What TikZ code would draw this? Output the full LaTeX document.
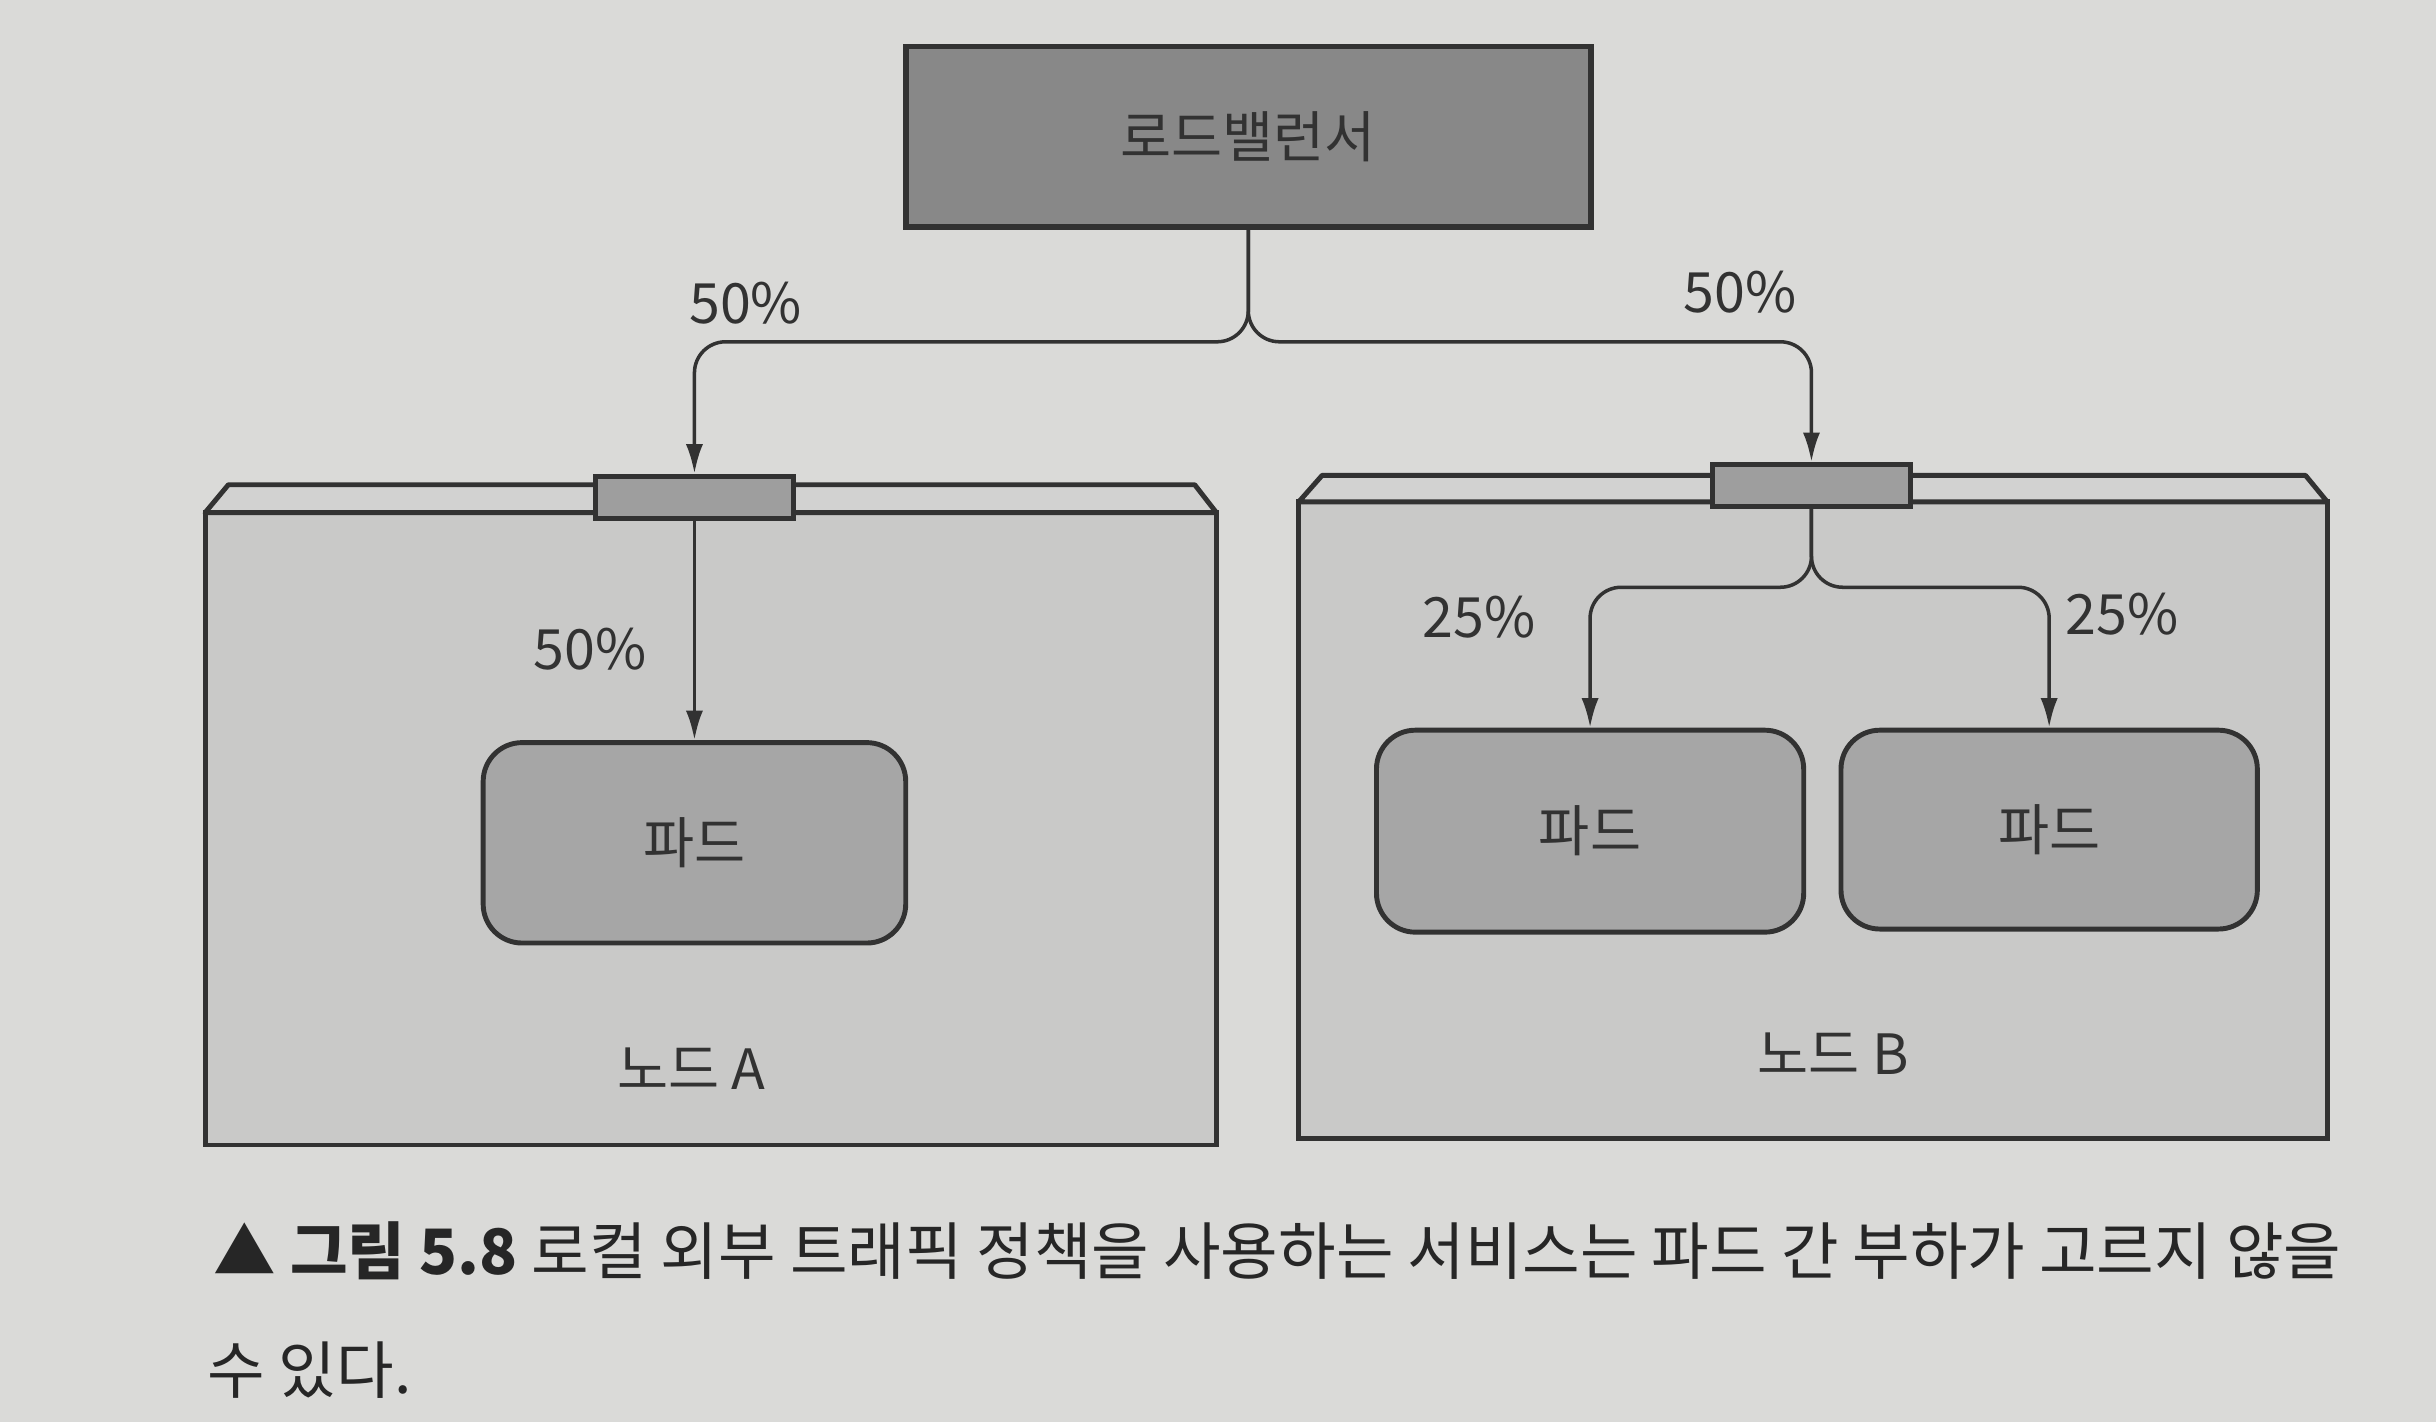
\documentclass[tikz,border=0pt]{standalone}
\usepackage{fontspec}
\setmainfont{Noto Sans CJK KR}
\usetikzlibrary{arrows.meta}

\definecolor{paper}{RGB}{218,218,216}
\definecolor{nodegray}{RGB}{201,201,200}
\definecolor{bandgray}{RGB}{210,210,209}
\definecolor{lbgray}{RGB}{136,136,136}
\definecolor{podgray}{RGB}{166,166,166}
\definecolor{svcgray}{RGB}{158,158,158}
\definecolor{ink}{RGB}{50,50,50}

\def\pxu{0.015536cm}

\tikzset{
  lbl/.style={font=\fontsize{15.8}{19}\selectfont, text=ink},
  lbbox/.style={draw=ink, line width=1.6pt, fill=lbgray, lbl},
  svcbox/.style={draw=ink, line width=1.4pt, fill=svcgray,
    minimum width=127*\pxu, minimum height=27*\pxu, inner sep=0pt},
  podbox/.style={draw=ink, line width=1.4pt, fill=podgray,
    rounded corners=25*\pxu, lbl},
  hostbox/.style={draw=ink, line width=1.4pt, fill=nodegray},
  band/.style={draw=ink, line width=1.4pt, fill=bandgray, line join=round},
  flow/.style={draw=ink, line width=1pt, rounded corners=20*\pxu,
    -{Latex[length=19*\pxu, width=11*\pxu]}},
  caption/.style={font=\fontsize{17.8}{21}\selectfont, text=black!85, anchor=west, inner sep=0pt}
}

\begin{document}
\begin{tikzpicture}[x=0.015536cm, y=-0.015536cm]
  \fill[paper] (0,0) rectangle (1568,915);
  \useasboundingbox (0,0) rectangle (1568,915);

  % host A and host B
  \draw[hostbox] (132,330) rectangle (783,737);
  \draw[band] (132,330) -- (147,312) -- (769,312) -- (783,330) -- cycle;
  \draw[hostbox] (836,323) rectangle (1498,733);
  \draw[band] (836,323) -- (851,306) -- (1484,306) -- (1498,323) -- cycle;

  % load balancer
  \node[lbbox, minimum width=441*\pxu, minimum height=116*\pxu] (lb) at (803.5,88) {로드밸런서};

  % services on the hosts
  \node[svcbox] (svcA) at (447,320) {};
  \node[svcbox] (svcB) at (1166,312.5) {};

  % pods
  \node[podbox, minimum width=272*\pxu, minimum height=129*\pxu] (podA) at (447,542.5) {파드};
  \node[podbox, minimum width=275*\pxu, minimum height=130*\pxu] (podB1) at (1023.5,535) {파드};
  \node[podbox, minimum width=268*\pxu, minimum height=128*\pxu] (podB2) at (1319,534) {파드};

  % traffic
  \draw[flow] (lb.south) -- (lb.south |- 0,220) -| (svcA.north);
  \draw[flow] (lb.south) -- (lb.south |- 0,220) -| (svcB.north);
  \draw[flow] (svcA.south) -- (podA.north);
  \draw[flow] (svcB.south) -- (svcB.south |- 0,378) -| (podB1.north);
  \draw[flow] (svcB.south) -- (svcB.south |- 0,378) -| (podB2.north);

  \node[lbl] (pLBa) at (480,195) {50\%};
  \node[lbl] (pLBb) at (1120,188) {50\%};
  \node[lbl] (pA) at (380,418) {50\%};
  \node[lbl] (pB1) at (952,397) {25\%};
  \node[lbl] (pB2) at (1366,395) {25\%};

  \node[lbl] (hostA) at (445,688) {노드 A};
  \node[lbl] (hostB) at (1180,678) {노드 B};

  % caption
  \node[caption] (cap1) at (137,805)
    {▲ \textbf{그림 5.8} 로컬 외부 트래픽 정책을 사용하는 서비스는 파드 간 부하가 고르지 않을};
  \node[caption] (cap2) at (133,882) {수 있다.};
\end{tikzpicture}
\end{document}
